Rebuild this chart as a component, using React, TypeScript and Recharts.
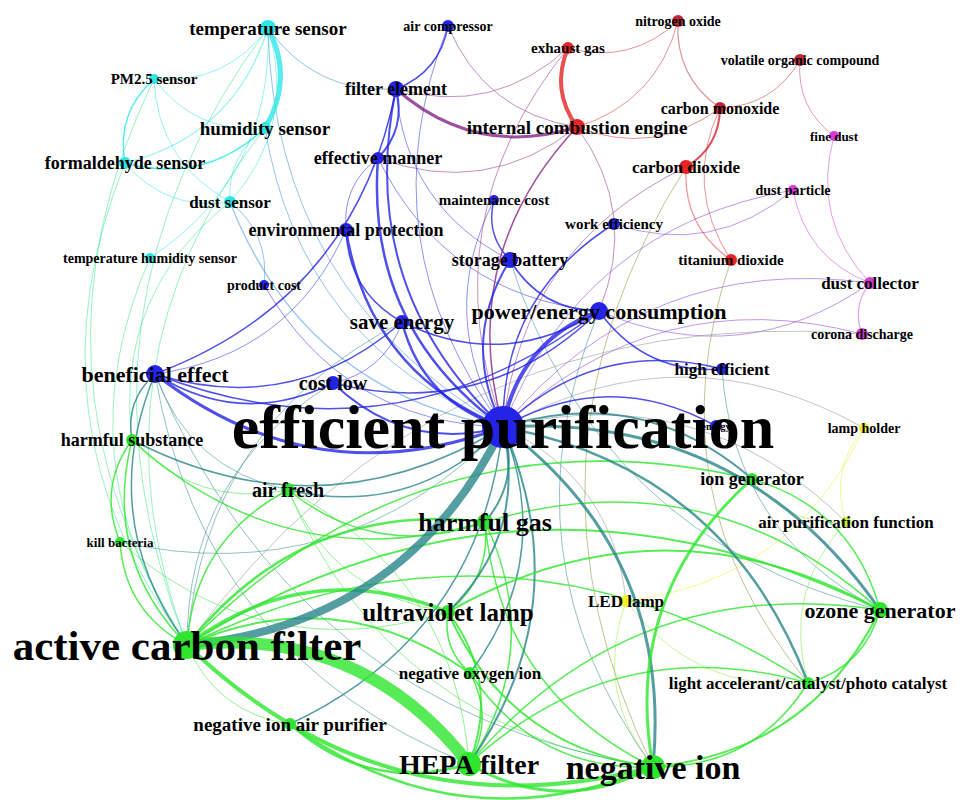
import React from 'react';
import { ScatterChart, Scatter, XAxis, YAxis } from 'recharts';

const W = 962;
const H = 800;
const X_DOMAIN: [number, number] = [0, 962];
const Y_DOMAIN: [number, number] = [0, 800];

// keyword clusters
const groupColors: Record<string, string> = {
  sensor: '#2ee6e6',
  blue: '#2424e6',
  red: '#e62424',
  darkred: '#c0283a',
  pink: '#d23cd2',
  green: '#2ee62e',
  yellow: '#f0f028',
  lime: '#c8ee40',
};

// name, layout x, layout y, cluster, node size (frequency), label size
const nodes: { name: string; x: number; y: number; group: string; freq: number; label: number }[] = [
  { name: 'temperature sensor', x: 268, y: 28, group: 'sensor', freq: 8, label: 19 },
  { name: 'PM2.5 sensor', x: 154, y: 79, group: 'sensor', freq: 5, label: 15 },
  { name: 'humidity sensor', x: 265, y: 128, group: 'sensor', freq: 6, label: 19 },
  { name: 'formaldehyde sensor', x: 125, y: 163, group: 'sensor', freq: 6, label: 18 },
  { name: 'dust sensor', x: 230, y: 202, group: 'sensor', freq: 6, label: 17 },
  { name: 'temperature humidity sensor', x: 150, y: 258, group: 'sensor', freq: 5, label: 14 },
  { name: 'air compressor', x: 448, y: 26, group: 'blue', freq: 6, label: 14 },
  { name: 'filter element', x: 396, y: 89, group: 'blue', freq: 8, label: 18 },
  { name: 'effective manner', x: 378, y: 158, group: 'blue', freq: 6, label: 18 },
  { name: 'maintenance cost', x: 494, y: 200, group: 'blue', freq: 5, label: 15 },
  { name: 'environmental protection', x: 346, y: 230, group: 'blue', freq: 7, label: 18 },
  { name: 'product cost', x: 264, y: 285, group: 'blue', freq: 5, label: 14 },
  { name: 'storage battery', x: 510, y: 260, group: 'blue', freq: 8, label: 18 },
  { name: 'work efficiency', x: 614, y: 224, group: 'blue', freq: 6, label: 15 },
  { name: 'save energy', x: 402, y: 322, group: 'blue', freq: 7, label: 21 },
  { name: 'power/energy consumption', x: 599, y: 311, group: 'blue', freq: 9, label: 22 },
  { name: 'beneficial effect', x: 155, y: 374, group: 'blue', freq: 9, label: 22 },
  { name: 'cost low', x: 333, y: 383, group: 'blue', freq: 7, label: 20 },
  { name: 'efficient purification', x: 503, y: 427, group: 'blue', freq: 21, label: 62 },
  { name: 'high efficient', x: 722, y: 369, group: 'blue', freq: 6, label: 17 },
  { name: 'energy', x: 716, y: 426, group: 'blue', freq: 6, label: 10 },
  { name: 'exhaust gas', x: 568, y: 48, group: 'red', freq: 6, label: 15 },
  { name: 'nitrogen oxide', x: 678, y: 21, group: 'darkred', freq: 6, label: 14 },
  { name: 'volatile organic compound', x: 800, y: 60, group: 'darkred', freq: 6, label: 14 },
  { name: 'internal combustion engine', x: 577, y: 127, group: 'red', freq: 8, label: 19 },
  { name: 'carbon monoxide', x: 720, y: 108, group: 'darkred', freq: 6, label: 16 },
  { name: 'carbon dioxide', x: 686, y: 167, group: 'red', freq: 7, label: 17 },
  { name: 'titanium dioxide', x: 731, y: 260, group: 'red', freq: 6, label: 15 },
  { name: 'fine dust', x: 834, y: 136, group: 'pink', freq: 5, label: 13 },
  { name: 'dust particle', x: 793, y: 190, group: 'pink', freq: 5, label: 14 },
  { name: 'dust collector', x: 870, y: 283, group: 'pink', freq: 6, label: 17 },
  { name: 'corona discharge', x: 862, y: 334, group: 'pink', freq: 6, label: 14 },
  { name: 'lamp holder', x: 864, y: 428, group: 'yellow', freq: 5, label: 14 },
  { name: 'ion generator', x: 752, y: 479, group: 'green', freq: 6, label: 18 },
  { name: 'air purification function', x: 846, y: 522, group: 'lime', freq: 5, label: 17 },
  { name: 'harmful substance', x: 132, y: 440, group: 'green', freq: 6, label: 18 },
  { name: 'air fresh', x: 288, y: 490, group: 'green', freq: 7, label: 20 },
  { name: 'harmful gas', x: 485, y: 522, group: 'green', freq: 8, label: 26 },
  { name: 'kill bacteria', x: 120, y: 542, group: 'green', freq: 5, label: 13 },
  { name: 'active carbon filter', x: 187, y: 645, group: 'green', freq: 14, label: 43 },
  { name: 'ultraviolet lamp', x: 448, y: 612, group: 'green', freq: 7, label: 25 },
  { name: 'LED lamp', x: 626, y: 601, group: 'yellow', freq: 6, label: 17 },
  { name: 'ozone generator', x: 880, y: 610, group: 'green', freq: 8, label: 22 },
  { name: 'negative oxygen ion', x: 470, y: 673, group: 'green', freq: 6, label: 17 },
  { name: 'light accelerant/catalyst/photo catalyst', x: 808, y: 683, group: 'green', freq: 6, label: 17 },
  { name: 'negative ion air purifier', x: 290, y: 724, group: 'green', freq: 6, label: 19 },
  { name: 'HEPA filter', x: 469, y: 764, group: 'green', freq: 12, label: 28 },
  { name: 'negative ion', x: 653, y: 767, group: 'green', freq: 12, label: 34 },
];

// co-occurrence links: source, target, strength
const edges: [string, string, number][] = [
  ['humidity sensor', 'temperature sensor', 5],
  ['PM2.5 sensor', 'temperature sensor', 1],
  ['formaldehyde sensor', 'temperature sensor', 1.2],
  ['dust sensor', 'temperature sensor', 1],
  ['temperature humidity sensor', 'temperature sensor', 1],
  ['temperature sensor', 'filter element', 1],
  ['PM2.5 sensor', 'formaldehyde sensor', 1.5],
  ['PM2.5 sensor', 'humidity sensor', 1],
  ['PM2.5 sensor', 'dust sensor', 1],
  ['formaldehyde sensor', 'humidity sensor', 1.5],
  ['formaldehyde sensor', 'dust sensor', 1],
  ['humidity sensor', 'dust sensor', 1],
  ['humidity sensor', 'efficient purification', 1],
  ['dust sensor', 'efficient purification', 1.2],
  ['formaldehyde sensor', 'active carbon filter', 1],
  ['PM2.5 sensor', 'active carbon filter', 1],
  ['temperature humidity sensor', 'active carbon filter', 1],
  ['temperature sensor', 'active carbon filter', 1],
  ['humidity sensor', 'active carbon filter', 1],
  ['dust sensor', 'harmful substance', 1],
  ['temperature sensor', 'efficient purification', 1],
  ['filter element', 'air compressor', 1.5],
  ['effective manner', 'filter element', 2],
  ['filter element', 'internal combustion engine', 3],
  ['filter element', 'efficient purification', 2],
  ['beneficial effect', 'filter element', 1.5],
  ['filter element', 'storage battery', 1],
  ['filter element', 'exhaust gas', 1],
  ['air compressor', 'efficient purification', 1],
  ['air compressor', 'internal combustion engine', 1],
  ['effective manner', 'efficient purification', 2.5],
  ['effective manner', 'environmental protection', 1],
  ['effective manner', 'internal combustion engine', 1],
  ['effective manner', 'power/energy consumption', 1],
  ['environmental protection', 'efficient purification', 2.5],
  ['environmental protection', 'save energy', 1.5],
  ['beneficial effect', 'environmental protection', 1],
  ['maintenance cost', 'storage battery', 1.5],
  ['maintenance cost', 'efficient purification', 1],
  ['product cost', 'efficient purification', 1],
  ['product cost', 'dust sensor', 1],
  ['storage battery', 'efficient purification', 2],
  ['storage battery', 'power/energy consumption', 1.5],
  ['work efficiency', 'efficient purification', 1.5],
  ['work efficiency', 'dust particle', 1],
  ['save energy', 'efficient purification', 2.5],
  ['beneficial effect', 'save energy', 1.5],
  ['save energy', 'power/energy consumption', 1.5],
  ['power/energy consumption', 'efficient purification', 4],
  ['power/energy consumption', 'high efficient', 1.5],
  ['power/energy consumption', 'dust collector', 1],
  ['power/energy consumption', 'internal combustion engine', 1],
  ['beneficial effect', 'efficient purification', 3],
  ['beneficial effect', 'cost low', 1.5],
  ['beneficial effect', 'power/energy consumption', 1.5],
  ['beneficial effect', 'harmful substance', 1.5],
  ['beneficial effect', 'active carbon filter', 1.5],
  ['beneficial effect', 'HEPA filter', 1],
  ['beneficial effect', 'air fresh', 1],
  ['cost low', 'efficient purification', 2],
  ['cost low', 'save energy', 1],
  ['cost low', 'power/energy consumption', 1.5],
  ['high efficient', 'efficient purification', 1.5],
  ['energy', 'efficient purification', 1.5],
  ['high efficient', 'ozone generator', 1],
  ['exhaust gas', 'internal combustion engine', 4],
  ['exhaust gas', 'nitrogen oxide', 1],
  ['exhaust gas', 'efficient purification', 1],
  ['nitrogen oxide', 'carbon monoxide', 1.2],
  ['internal combustion engine', 'nitrogen oxide', 1],
  ['carbon dioxide', 'carbon monoxide', 2],
  ['carbon monoxide', 'volatile organic compound', 1],
  ['carbon monoxide', 'titanium dioxide', 1],
  ['carbon dioxide', 'titanium dioxide', 1.2],
  ['carbon dioxide', 'efficient purification', 1],
  ['internal combustion engine', 'efficient purification', 1.5],
  ['volatile organic compound', 'fine dust', 1],
  ['internal combustion engine', 'carbon monoxide', 1],
  ['titanium dioxide', 'light accelerant/catalyst/photo catalyst', 1],
  ['carbon dioxide', 'negative ion', 1],
  ['fine dust', 'dust collector', 1],
  ['dust particle', 'dust collector', 1],
  ['dust collector', 'corona discharge', 1.2],
  ['dust particle', 'efficient purification', 1],
  ['dust collector', 'efficient purification', 1],
  ['corona discharge', 'efficient purification', 1],
  ['corona discharge', 'active carbon filter', 1],
  ['active carbon filter', 'efficient purification', 8],
  ['HEPA filter', 'active carbon filter', 12],
  ['negative ion', 'efficient purification', 3],
  ['ozone generator', 'efficient purification', 3],
  ['light accelerant/catalyst/photo catalyst', 'efficient purification', 2.5],
  ['HEPA filter', 'efficient purification', 2],
  ['harmful gas', 'efficient purification', 2],
  ['ultraviolet lamp', 'efficient purification', 2],
  ['ion generator', 'efficient purification', 2],
  ['air fresh', 'efficient purification', 1.5],
  ['harmful substance', 'efficient purification', 1.5],
  ['kill bacteria', 'efficient purification', 1],
  ['negative oxygen ion', 'efficient purification', 1.5],
  ['negative ion air purifier', 'efficient purification', 1.5],
  ['LED lamp', 'efficient purification', 1],
  ['air purification function', 'efficient purification', 1],
  ['lamp holder', 'efficient purification', 1],
  ['active carbon filter', 'negative ion', 4],
  ['ultraviolet lamp', 'active carbon filter', 3.5],
  ['harmful gas', 'active carbon filter', 2.5],
  ['negative oxygen ion', 'active carbon filter', 2],
  ['air fresh', 'active carbon filter', 1.5],
  ['harmful substance', 'active carbon filter', 1.5],
  ['kill bacteria', 'active carbon filter', 1.5],
  ['ozone generator', 'active carbon filter', 2],
  ['light accelerant/catalyst/photo catalyst', 'active carbon filter', 1.5],
  ['ion generator', 'active carbon filter', 1.5],
  ['active carbon filter', 'negative ion air purifier', 1],
  ['HEPA filter', 'negative ion', 3],
  ['HEPA filter', 'ultraviolet lamp', 2],
  ['HEPA filter', 'negative oxygen ion', 1.5],
  ['ozone generator', 'HEPA filter', 1.5],
  ['HEPA filter', 'harmful gas', 1.5],
  ['negative ion air purifier', 'HEPA filter', 2.5],
  ['HEPA filter', 'air fresh', 1],
  ['light accelerant/catalyst/photo catalyst', 'HEPA filter', 1.5],
  ['ion generator', 'negative ion', 3],
  ['negative ion', 'ozone generator', 2],
  ['negative ion', 'light accelerant/catalyst/photo catalyst', 1.5],
  ['negative oxygen ion', 'negative ion', 1.5],
  ['ultraviolet lamp', 'negative ion', 2],
  ['harmful gas', 'negative ion', 1.5],
  ['negative ion air purifier', 'negative ion', 2.5],
  ['air fresh', 'negative ion', 1],
  ['LED lamp', 'negative ion', 1],
  ['ozone generator', 'ultraviolet lamp', 2],
  ['ozone generator', 'harmful gas', 1.5],
  ['light accelerant/catalyst/photo catalyst', 'ozone generator', 1.5],
  ['ozone generator', 'ion generator', 1.5],
  ['ultraviolet lamp', 'harmful gas', 1.5],
  ['ultraviolet lamp', 'negative oxygen ion', 1.5],
  ['air fresh', 'harmful gas', 1.5],
  ['harmful substance', 'harmful gas', 1.5],
  ['harmful substance', 'kill bacteria', 1.5],
  ['harmful substance', 'air fresh', 1],
  ['ion generator', 'air purification function', 1],
  ['LED lamp', 'lamp holder', 1],
  ['LED lamp', 'light accelerant/catalyst/photo catalyst', 1],
  ['lamp holder', 'air purification function', 1],
  ['air purification function', 'light accelerant/catalyst/photo catalyst', 1],
  ['air fresh', 'ultraviolet lamp', 1],
  ['kill bacteria', 'ultraviolet lamp', 1],
  ['cost low', 'active carbon filter', 1],
  ['beneficial effect', 'negative ion', 1],
  ['save energy', 'active carbon filter', 1],
  ['storage battery', 'ozone generator', 1],
  ['power/energy consumption', 'negative ion', 1],
];

const BEND = 0.28;
const PLOT_W = W;
const PLOT_H = H;
const KX = PLOT_W / (X_DOMAIN[1] - X_DOMAIN[0]);
const KY = PLOT_H / (Y_DOMAIN[1] - Y_DOMAIN[0]);

function hexToRgb(h: string) {
  const n = parseInt(h.slice(1), 16);
  return [(n >> 16) & 255, (n >> 8) & 255, n & 255];
}
function mix(a: string, b: string) {
  const ra = hexToRgb(a);
  const rb = hexToRgb(b);
  const c = ra.map((v, i) => Math.round((v + rb[i]) / 2));
  return `rgb(${c[0]},${c[1]},${c[2]})`;
}

const byName = new Map(nodes.map((n) => [n.name, n]));

const edgeData = edges
  .map(([s, t, w]) => {
    const a = byName.get(s)!;
    const b = byName.get(t)!;
    return {
      x: a.x,
      y: a.y,
      dx: b.x - a.x,
      dy: b.y - a.y,
      w,
      color: mix(groupColors[a.group], groupColors[b.group]),
    };
  })
  .sort((p, q) => p.w - q.w);

const nodeData = nodes.map((n) => ({ ...n, color: groupColors[n.group] }));

const radius = (freq: number) => freq;

const EdgeShape = (props: any) => {
  const { cx, cy, payload } = props;
  const tx = cx + payload.dx * KX;
  const ty = cy + payload.dy * KY;
  const ex = tx - cx;
  const ey = ty - cy;
  const qx = (cx + tx) / 2 - ey * BEND;
  const qy = (cy + ty) / 2 + ex * BEND;
  return (
    <path
      d={`M${cx},${cy} Q${qx},${qy} ${tx},${ty}`}
      fill="none"
      stroke={payload.color}
      strokeWidth={payload.w}
      strokeOpacity={payload.w > 1.4 ? 0.8 : 0.5}
      strokeLinecap="round"
    />
  );
};

const NodeShape = (props: any) => {
  const { cx, cy, payload } = props;
  return <circle cx={cx} cy={cy} r={radius(payload.freq)} fill={payload.color} />;
};

const LabelShape = (props: any) => {
  const { cx, cy, payload } = props;
  return (
    <text
      x={cx}
      y={cy}
      textAnchor="middle"
      dominantBaseline="central"
      fontFamily="'Liberation Serif', 'DejaVu Serif', serif"
      fontWeight="bold"
      fontSize={payload.label}
      fill="#000"
    >
      {payload.name}
    </text>
  );
};

export default function App() {
  return (
    <div style={{ position: 'absolute', left: 0, top: 0, width: W, height: H, background: '#fff' }}>
      <ScatterChart width={W} height={H} margin={{ top: 0, right: 0, bottom: 0, left: 0 }}>
        <XAxis type="number" dataKey="x" domain={X_DOMAIN} hide allowDataOverflow />
        <YAxis type="number" dataKey="y" domain={Y_DOMAIN} reversed hide allowDataOverflow />
        <Scatter data={edgeData} shape={EdgeShape} isAnimationActive={false} />
        <Scatter data={nodeData} shape={NodeShape} isAnimationActive={false} />
        <Scatter data={nodeData} shape={LabelShape} isAnimationActive={false} />
      </ScatterChart>
    </div>
  );
}
